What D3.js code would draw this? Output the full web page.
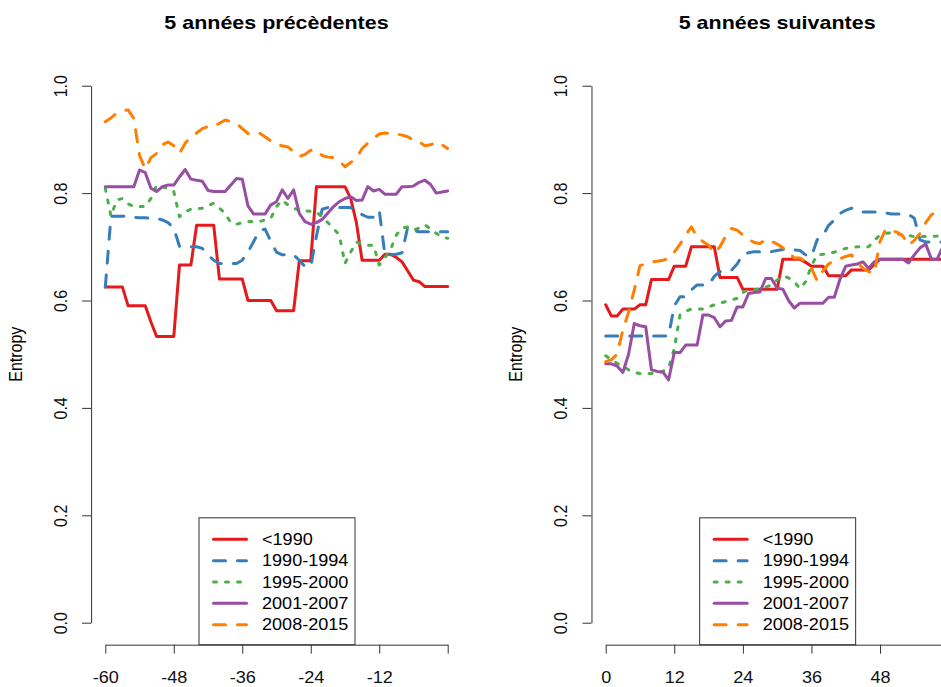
<!DOCTYPE html>
<html>
<head>
<meta charset="utf-8">
<style>
	body { margin: 0; background: #fff; }
	svg { display: block; font-family: "Liberation Sans", Arial, sans-serif; }
	.axis path, .axis line { stroke: #333; stroke-width: 1; }
	.axis text { fill: #111; font-size: 16px; }
</style>
<script src="https://d3js.org/d3.v7.min.js"></script>
</head>
<body>
<div id="chart"></div>
<script>

// months relative to the event
var monthsBefore = d3.range(-60, 1);
var monthsAfter = d3.range(0, 61);

var ticksBefore = [-60, -48, -36, -24, -12, 0];
var tickLabelsBefore = ["-60", "-48", "-36", "-24", "-12", ""];
var ticksAfter = [0, 12, 24, 36, 48, 60];
var tickLabelsAfter = ["0", "12", "24", "36", "48", ""];
var yTicks = [0, 0.2, 0.4, 0.6, 0.8, 1.0];

var cohorts = ["<1990", "1990-1994", "1995-2000", "2001-2007", "2008-2015"];
var titles = ["5 années précèdentes", "5 années suivantes"];

// entropy, 5 years before (-60 .. 0)
var before_lt1990 = [.625,.625,.625,.625,.59,.59,.59,.59,.56,.533,.533,.533,.533,.666,.666,.666,.74,.74,.74,.74,
	.64,.64,.64,.64,.64,.60,.60,.60,.60,.60,.581,.581,.581,.581,.674,.674,.674,.812,.812,.812,.812,.812,.812,
	.79,.745,.675,.675,.675,.675,.686,.686,.68,.672,.655,.638,.635,.626,.626,.626,.626,.626];
var before_1990 = [.625,.757,.757,.757,.756,.755,.754,.754,.753,.753,.75,.745,.735,.701,.70,.70,.70,.697,.685,.675,
	.669,.669,.669,.669,.675,.69,.71,.73,.733,.71,.69,.685,.685,.685,.675,.663,.663,.72,.77,.773,.773,.773,.773,
	.773,.765,.76,.755,.755,.768,.685,.685,.686,.689,.737,.73,.728,.728,.728,.728,.728,.728];
var before_1995 = [.809,.757,.787,.79,.78,.775,.775,.775,.79,.815,.812,.808,.803,.756,.765,.77,.771,.772,.777,.781,
	.772,.762,.745,.742,.745,.747,.747,.747,.75,.753,.775,.787,.778,.772,.768,.767,.766,.765,.755,.745,.734,.722,
	.669,.69,.709,.705,.703,.703,.666,.68,.695,.722,.735,.737,.731,.735,.741,.733,.725,.718,.716];
var before_2001 = [.812,.812,.812,.812,.812,.812,.843,.838,.809,.803,.812,.815,.815,.83,.844,.826,.824,.822,.805,.803,
	.803,.803,.815,.827,.826,.776,.761,.761,.761,.778,.784,.806,.79,.806,.762,.747,.742,.745,.751,.763,.775,.784,
	.79,.793,.786,.787,.812,.804,.807,.798,.798,.798,.812,.812,.813,.82,.824,.816,.80,.802,.804];
var before_2008 = [.933,.94,.949,.953,.955,.939,.87,.845,.866,.874,.89,.895,.888,.874,.893,.905,.912,.92,.924,.924,
	.93,.936,.933,.93,.92,.911,.913,.912,.905,.897,.891,.888,.886,.877,.868,.872,.88,.88,.87,.867,.866,.86,.849,
	.857,.865,.883,.893,.902,.91,.912,.911,.91,.908,.905,.898,.896,.888,.89,.895,.89,.883];

// entropy, 5 years after (0 .. 60)
var after_lt1990 = [.592,.571,.571,.584,.584,.584,.592,.592,.639,.639,.639,.639,.664,.664,.664,.70,.70,.70,.70,.70,
	.643,.643,.643,.643,.621,.621,.621,.621,.621,.621,.621,.677,.677,.677,.677,.671,.664,.664,.664,.646,.646,.646,
	.646,.657,.657,.657,.657,.667,.677,.677,.677,.677,.677,.677,.677,.677,.677,.677,.677,.677,.677];
var after_1990 = [.534,.534,.534,.534,.534,.534,.534,.534,.534,.534,.534,.534,.59,.607,.607,.62,.629,.629,.629,.645,
	.654,.654,.656,.668,.686,.689,.691,.691,.691,.691,.693,.695,.695,.694,.693,.685,.682,.713,.72,.74,.75,.762,
	.768,.772,.77,.765,.765,.765,.765,.763,.761,.761,.761,.76,.753,.713,.709,.709,.709,.709,.709];
var after_1995 = [.497,.49,.483,.477,.471,.466,.464,.464,.464,.465,.468,.474,.51,.573,.58,.584,.584,.584,.588,.592,
	.595,.598,.601,.604,.615,.62,.62,.622,.625,.629,.638,.646,.642,.635,.622,.635,.665,.685,.686,.688,.69,.694,
	.697,.699,.70,.70,.70,.712,.722,.725,.726,.724,.722,.721,.719,.719,.719,.719,.72,.722,.722];
var after_2001 = [.482,.482,.478,.466,.50,.557,.553,.551,.471,.468,.467,.452,.503,.503,.517,.517,.517,.573,.573,.568,
	.551,.562,.563,.588,.588,.613,.615,.616,.641,.641,.623,.621,.60,.586,.595,.595,.595,.595,.595,.606,.606,.64,
	.664,.666,.668,.672,.66,.672,.677,.677,.677,.677,.677,.67,.685,.698,.705,.677,.677,.70,.70];
var after_2008 = [.486,.49,.50,.545,.578,.62,.665,.668,.672,.673,.675,.678,.69,.705,.722,.737,.718,.71,.703,.688,
	.70,.72,.734,.731,.722,.714,.708,.706,.714,.71,.705,.698,.69,.679,.679,.672,.66,.637,.655,.668,.675,.678,
	.682,.685,.672,.66,.654,.651,.71,.733,.73,.727,.72,.703,.712,.725,.745,.76,.765,.762,.76];

var colors = ["#E41A1C", "#377EB8", "#4DAF4A", "#984EA3", "#FF7F00"];
var dashes = [null, "12,12", "3,9", null, "12,12"];

var W = 941, H = 687;
var sx = 1.13; // text looks a bit wide in the original

var svg = d3.select("#chart").append("svg")
	.attr("width", W)
	.attr("height", H);

svg.append("rect").attr("width", W).attr("height", H).attr("fill", "#fff");

var y = d3.scaleLinear().domain([0, 1]).range([622.7, 85.7]);

function panel(opts) {
	var x = d3.scaleLinear().domain(opts.domain).range(opts.range);
	var g = svg.append("g");

	// plot region is the data range plus 4% on each side, like R
	var span = opts.domain[1] - opts.domain[0];
	var left = x(opts.domain[0] - span * 0.04),
		right = x(opts.domain[1] + span * 0.04);
	var mid = (left + right) / 2;
	var bottom = y(-0.04);

	g.append("text")
		.attr("transform", "translate(" + mid + ",29) scale(" + sx + ",1)")
		.attr("text-anchor", "middle")
		.style("font-size", "19px")
		.style("font-weight", "bold")
		.text(opts.title);

	// y axis
	var ya = g.append("g").attr("class", "axis")
		.attr("transform", "translate(" + (left - 0.5) + ",0)")
		.call(d3.axisLeft(y).tickValues(yTicks).tickFormat(d3.format(".1f")).tickSize(9).tickSizeOuter(0));
	ya.selectAll("text")
		.attr("x", null).attr("dy", null)
		.attr("text-anchor", "middle")
		.attr("transform", "translate(-24,0) scale(" + sx + ",1) rotate(-90)");

	g.append("text")
		.attr("transform", "translate(" + (left - 70) + "," + ((y(1.04) + bottom) / 2) + ") scale(" + sx + ",1) rotate(-90)")
		.attr("text-anchor", "middle")
		.style("font-size", "16px")
		.text("Entropy");

	// x axis, the last tick has no label
	var xa = g.append("g").attr("class", "axis")
		.attr("transform", "translate(0," + (bottom + 0.5) + ")")
		.call(d3.axisBottom(x).tickValues(opts.ticks)
			.tickFormat(function(d, i) { return opts.tickLabels[i]; })
			.tickSize(9).tickSizeOuter(0));
	xa.selectAll("text")
		.attr("y", null).attr("dy", null)
		.attr("transform", "translate(0,38) scale(" + sx + ",1)");

	// lines
	var line = d3.line()
		.x(function(d) { return x(d[0]); })
		.y(function(d) { return y(d[1]); });

	opts.series.forEach(function(vals, i) {
		var pts = opts.months.map(function(m, j) { return [m, vals[j]]; });
		g.append("path")
			.datum(pts)
			.attr("d", line)
			.attr("fill", "none")
			.attr("stroke", colors[i])
			.attr("stroke-width", 3)
			.attr("stroke-linejoin", "round")
			.attr("stroke-linecap", "round")
			.attr("stroke-dasharray", dashes[i]);
	});

	// legend at the bottom of the plot region
	var bw = 156, bh = bottom - 517.3;
	var bx = mid - bw / 2, by = 517.3;
	var lg = g.append("g").attr("transform", "translate(" + bx + "," + by + ")");
	lg.append("rect")
		.attr("x", 0.5).attr("y", 0.5)
		.attr("width", bw).attr("height", bh)
		.attr("fill", "#fff")
		.attr("stroke", "#333");

	cohorts.forEach(function(name, i) {
		var cy = 22 + i * 21.35;
		lg.append("line")
			.attr("x1", 15).attr("x2", 48)
			.attr("y1", cy).attr("y2", cy)
			.attr("stroke", colors[i])
			.attr("stroke-width", 3)
			.attr("stroke-linecap", "round")
			.attr("stroke-dasharray", dashes[i]);
		lg.append("text")
			.attr("transform", "translate(63.5," + (cy + 5.7) + ") scale(" + sx + ",1)")
			.style("font-size", "16px")
			.text(name);
	});
}

panel({
	title: titles[0],
	domain: [-60, 0],
	range: [105.3, 447.7],
	ticks: ticksBefore,
	tickLabels: tickLabelsBefore,
	months: monthsBefore,
	series: [before_lt1990, before_1990, before_1995, before_2001, before_2008]
});

panel({
	title: titles[1],
	domain: [0, 60],
	range: [605.7, 948.6],
	ticks: ticksAfter,
	tickLabels: tickLabelsAfter,
	months: monthsAfter,
	series: [after_lt1990, after_1990, after_1995, after_2001, after_2008]
});

</script>
</body>
</html>
